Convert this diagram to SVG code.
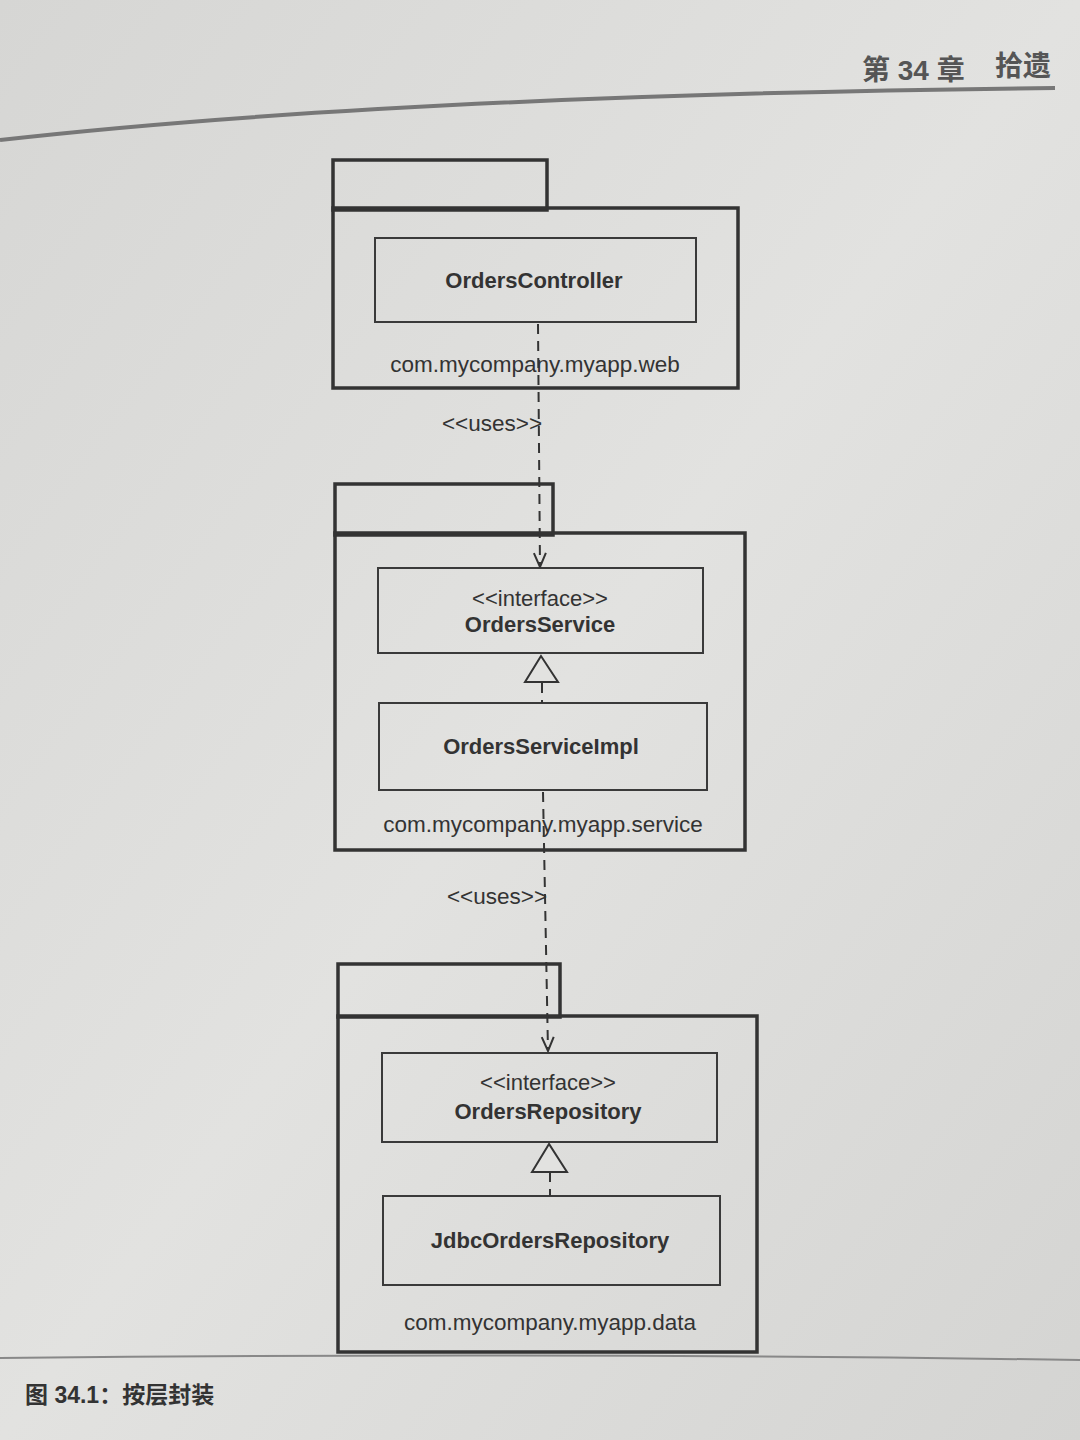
<svg xmlns="http://www.w3.org/2000/svg" width="1080" height="1440" viewBox="0 0 1080 1440">
<defs>
<linearGradient id="bg" x1="0" y1="0" x2="1" y2="1">
<stop offset="0" stop-color="#d6d6d4"/>
<stop offset="0.5" stop-color="#e2e2e0"/>
<stop offset="1" stop-color="#d4d4d2"/>
</linearGradient>
<marker id="open" markerWidth="16" markerHeight="16" refX="15" refY="8" orient="auto" markerUnits="userSpaceOnUse" viewBox="0 0 16 16">
<path d="M1 2 L15 8 L1 14" fill="none" stroke="#333" stroke-width="2"/>
</marker>
<style>
.pkg{fill:none;stroke:#333;stroke-width:3.5}
.cls{fill:none;stroke:#3a3a3a;stroke-width:2}
.dash{fill:none;stroke:#333;stroke-width:2;stroke-dasharray:10 7}
.tri{fill:#e2e2e0;stroke:#333;stroke-width:2}
.name{font-family:"Liberation Sans",Arial,sans-serif;font-weight:bold;font-size:22px;fill:#333;text-anchor:middle}
.ster{font-family:"Liberation Sans",Arial,sans-serif;font-size:22px;fill:#333;text-anchor:middle}
.lbl{font-family:"Liberation Sans",Arial,sans-serif;font-size:22.5px;fill:#333;text-anchor:middle}
.cjk{font-family:"Liberation Sans","Noto Sans CJK SC",sans-serif;fill:#555}
</style>
</defs>
<rect width="1080" height="1440" fill="url(#bg)"/>
<g id="header">
<path d="M0 140 Q400 95 1055 88" fill="none" stroke="#777" stroke-width="4"/>
<text class="cjk" x="862" y="80" font-size="28" font-weight="bold">第 34 章</text>
<text class="cjk" x="995" y="76" font-size="28" font-weight="bold">拾遗</text>
</g>
<g id="pkg-web">
<rect class="pkg" x="333" y="160" width="214" height="50"/>
<rect class="pkg" x="333" y="208" width="405" height="180"/>
<text class="lbl" x="535" y="372">com.mycompany.myapp.web</text>
</g>
<g id="OrdersController">
<rect class="cls" x="375" y="238" width="321" height="84"/>
<text class="name" x="534" y="288">OrdersController</text>
</g>
<g id="pkg-service">
<rect class="pkg" x="335" y="484" width="218" height="51"/>
<rect class="pkg" x="335" y="533" width="410" height="317"/>
<text class="lbl" x="543" y="832">com.mycompany.myapp.service</text>
</g>
<g id="OrdersService">
<rect class="cls" x="378" y="568" width="325" height="85"/>
<text class="ster" x="540" y="606">&lt;&lt;interface&gt;&gt;</text>
<text class="name" x="540" y="632">OrdersService</text>
</g>
<g id="OrdersServiceImpl">
<rect class="cls" x="379" y="703" width="328" height="87"/>
<text class="name" x="541" y="754">OrdersServiceImpl</text>
</g>
<g id="pkg-data">
<rect class="pkg" x="338" y="964" width="222" height="53"/>
<rect class="pkg" x="338" y="1016" width="419" height="336"/>
<text class="lbl" x="550" y="1330">com.mycompany.myapp.data</text>
</g>
<g id="OrdersRepository">
<rect class="cls" x="382" y="1053" width="335" height="89"/>
<text class="ster" x="548" y="1090">&lt;&lt;interface&gt;&gt;</text>
<text class="name" x="548" y="1119">OrdersRepository</text>
</g>
<g id="JdbcOrdersRepository">
<rect class="cls" x="383" y="1196" width="337" height="89"/>
<text class="name" x="550" y="1248">JdbcOrdersRepository</text>
</g>
<g id="connectors">
<path class="dash" d="M538 324 L540 567" marker-end="url(#open)"/>
<text class="lbl" x="492" y="431">&lt;&lt;uses&gt;&gt;</text>
<path class="dash" d="M542 683 L542 703"/>
<polygon class="tri" points="541,656 525,682 558,682"/>
<path class="dash" d="M543 792 L548 1051" marker-end="url(#open)"/>
<text class="lbl" x="497" y="904">&lt;&lt;uses&gt;&gt;</text>
<path class="dash" d="M550 1172 L550 1196"/>
<polygon class="tri" points="549,1144 532,1172 567,1172"/>
</g>
<g id="caption">
<path d="M0 1358 Q540 1352 1080 1360" fill="none" stroke="#888" stroke-width="2"/>
<text class="cjk" x="25" y="1403" font-size="23" font-weight="bold" style="fill:#333">图 34.1：按层封装</text>
</g>
</svg>
